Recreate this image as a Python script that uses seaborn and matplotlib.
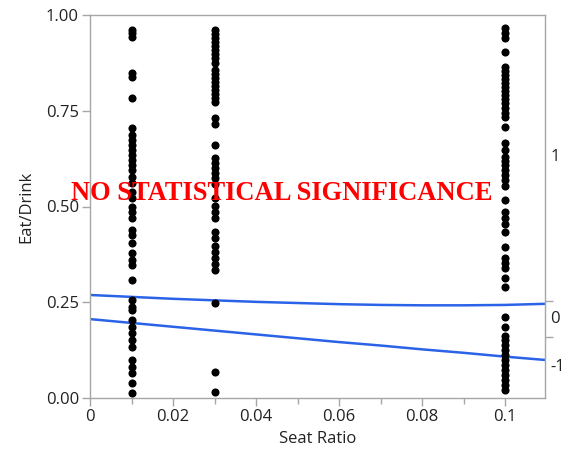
import matplotlib
matplotlib.use("Agg")
import matplotlib.pyplot as plt
import seaborn as sns
import pandas as pd
import numpy as np

# ---- data ----
x_levels = [0.01, 0.03, 0.1]

y_001 = [0.961, 0.953, 0.943, 0.849, 0.838, 0.783, 0.705, 0.687, 0.674, 0.661,
         0.648, 0.634, 0.621, 0.608, 0.595, 0.577, 0.561, 0.538, 0.522, 0.499,
         0.486, 0.470, 0.439, 0.426, 0.405, 0.379, 0.360, 0.347, 0.308, 0.256,
         0.238, 0.230, 0.204, 0.185, 0.170, 0.151, 0.133, 0.099, 0.081, 0.065,
         0.039, 0.013]
y_003 = [0.961, 0.950, 0.940, 0.930, 0.919, 0.909, 0.898, 0.888, 0.875, 0.856,
         0.846, 0.836, 0.825, 0.815, 0.804, 0.794, 0.783, 0.773, 0.731, 0.715,
         0.661, 0.627, 0.614, 0.601, 0.587, 0.574, 0.559, 0.522, 0.501, 0.486,
         0.470, 0.433, 0.418, 0.397, 0.381, 0.366, 0.350, 0.334, 0.248, 0.068,
         0.016]
y_010 = [0.966, 0.953, 0.940, 0.903, 0.864, 0.854, 0.843, 0.833, 0.822, 0.812,
         0.802, 0.791, 0.781, 0.770, 0.757, 0.744, 0.734, 0.708, 0.666, 0.648,
         0.629, 0.619, 0.608, 0.595, 0.582, 0.569, 0.554, 0.517, 0.486, 0.470,
         0.454, 0.433, 0.394, 0.366, 0.352, 0.339, 0.313, 0.290, 0.211, 0.185,
         0.162, 0.151, 0.138, 0.125, 0.112, 0.099, 0.086, 0.073, 0.060, 0.047,
         0.034, 0.021]

curve_x = [0.0, 0.01, 0.02, 0.03, 0.04, 0.05, 0.06, 0.07, 0.08, 0.09, 0.10, 0.11]
curve_upper = [0.269, 0.264, 0.259, 0.255, 0.251, 0.248, 0.245, 0.243, 0.242, 0.242, 0.243, 0.246]
curve_lower = [0.206, 0.196, 0.186, 0.176, 0.166, 0.156, 0.146, 0.137, 0.127, 0.118, 0.108, 0.099]

right_ticks = [0.253, 0.159]
right_labels = ["1", "0", "-1"]
right_label_pos = [0.63, 0.206, 0.08]

x_ticks = [0, 0.02, 0.04, 0.06, 0.08, 0.1]
x_ticklabels = ["0", "0.02", "0.04", "0.06", "0.08", "0.1"]
y_ticks = [0, 0.25, 0.5, 0.75, 1.0]
y_ticklabels = ["0.00", "0.25", "0.50", "0.75", "1.00"]

annotation = "NO STATISTICAL SIGNIFICANCE"

# ---- build tables ----
pts = pd.DataFrame({
    "x": [x_levels[0]] * len(y_001) + [x_levels[1]] * len(y_003) + [x_levels[2]] * len(y_010),
    "y": y_001 + y_003 + y_010,
})
curves = pd.DataFrame({
    "x": curve_x + curve_x,
    "y": curve_upper + curve_lower,
    "c": ["upper"] * len(curve_x) + ["lower"] * len(curve_x),
})

sns.set_style("white")
plt.rcParams["font.family"] = ["Open Sans", "DejaVu Sans"]

fig = plt.figure(figsize=(5.68, 4.55), dpi=100)
ax = fig.add_axes([90 / 568, 1 - 398 / 455, (545 - 90) / 568, (398 - 15) / 455])

gray = "#a6a6a6"
blue = "#2b63e8"

sns.lineplot(data=curves, x="x", y="y", units="c", estimator=None, color=blue,
             lw=1.8, ax=ax, legend=False, zorder=2)
sns.scatterplot(data=pts, x="x", y="y", color="black", s=34, linewidth=0,
                ax=ax, legend=False, zorder=3)

ax.set_xlim(0, 0.1096)
ax.set_ylim(0, 1)

ax.set_xticks(x_ticks)
ax.set_xticklabels(x_ticklabels)
ax.set_xticks([0.01, 0.03, 0.05, 0.07, 0.09], minor=True)
ax.set_yticks(y_ticks)
ax.set_yticklabels(y_ticklabels)

for s in ax.spines.values():
    s.set_color(gray)
    s.set_linewidth(1.0)

ax.tick_params(axis="both", which="major", direction="out", length=6, width=1,
               color=gray, labelsize=12, labelcolor="#222222", pad=2,
               bottom=True, left=True)
ax.tick_params(axis="x", which="minor", direction="out", length=4, width=1,
               color=gray, bottom=True)

ax.set_xlabel("Seat Ratio", fontsize=12, color="#222222", labelpad=4)
ax.set_ylabel("Eat/Drink", fontsize=12, color="#222222", labelpad=8)

# right axis with response levels
ax2 = ax.twinx()
ax2.set_ylim(0, 1)
ax2.set_yticks(right_ticks)
ax2.set_yticklabels([])
ax2.tick_params(axis="y", direction="out", length=6, width=1, color=gray, right=True)
for s in ax2.spines.values():
    s.set_visible(False)
for lab, pos in zip(right_labels, right_label_pos):
    ax2.text(1.012, pos, lab, transform=ax2.get_yaxis_transform(), fontsize=12,
             color="#222222", va="center", ha="left")

ax.text(0.0462, 0.535, annotation, color="#ff0000", fontsize=19.1, fontweight="bold",
        family=["Liberation Serif", "DejaVu Serif"], ha="center", va="center", zorder=5)

fig.savefig("out.png", dpi=100)
